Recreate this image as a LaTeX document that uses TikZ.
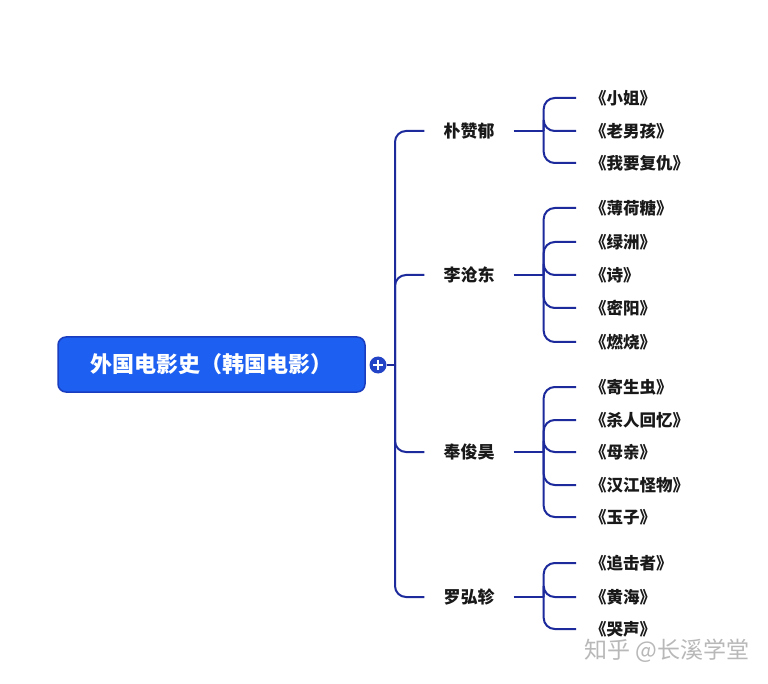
\documentclass[tikz,border=0pt]{standalone}
\usepackage{fontspec}
\setmainfont{Noto Sans CJK SC}
\definecolor{linec}{HTML}{1C2A9C}
\definecolor{rootfill}{HTML}{1D5FF0}
\definecolor{rootdraw}{HTML}{1A3CBF}
\definecolor{plusc}{HTML}{2343C6}
\definecolor{wmark}{HTML}{B8B8B8}
\begin{document}
\begin{tikzpicture}[x=1pt,y=-1pt,
  conn/.style={draw=linec, line width=2pt, rounded corners=11pt},
  rootbox/.style={draw=rootdraw, line width=1.5pt, fill=rootfill, rounded corners=8pt,
    minimum width=307pt, minimum height=55pt, text=white, font=\fontsize{22}{26}\selectfont\bfseries, inner sep=0pt},
  plusdot/.style={circle, fill=plusc, minimum size=17pt, inner sep=0pt},
  branch/.style={font=\fontsize{17}{20}\selectfont\bfseries, inner xsep=19pt, inner ysep=0pt, text=black!90},
  leaf/.style={font=\fontsize{16.5}{19}\selectfont\bfseries, anchor=west, inner xsep=14pt, inner ysep=0pt, text=black!90},
  wm/.style={font=\fontsize{23}{27}\selectfont, text=wmark}
]
\useasboundingbox (0,0) rectangle (768,684);
\fill[white] (0,0) rectangle (768,684);

% root
\node[rootbox] (root) at (211.5,364.5) {外国电影史（韩国电影）};
\node[plusdot] (plus) at (378,365) {};
\draw[white, line width=2pt] ([xshift=-5pt]plus.center) -- ([xshift=5pt]plus.center);
\draw[white, line width=2pt] ([yshift=-5pt]plus.center) -- ([yshift=5pt]plus.center);
\coordinate (j0) at (395,365);
\draw[conn] (plus.east) -- (j0);

% branches
\node[branch] (b1) at (469,131) {朴赞郁};
\node[branch] (b2) at (469,275) {李沧东};
\node[branch] (b3) at (469,452) {奉俊昊};
\node[branch] (b4) at (469,597) {罗弘轸};
\foreach \b in {b1,b2,b3,b4} \draw[conn] (j0) |- (\b.west);

% sub junctions
\path (b1.east) -- ++(30,0) coordinate (s1);
\path (b2.east) -- ++(30,0) coordinate (s2);
\path (b3.east) -- ++(30,0) coordinate (s3);
\path (b4.east) -- ++(30,0) coordinate (s4);
\foreach \b/\s in {b1/s1,b2/s2,b3/s3,b4/s4} \draw[conn] (\b.east) -- (\s);

% leaves group 1
\node[leaf] (l11) at (576,98)  {《小姐》};
\node[leaf] (l12) at (576,131) {《老男孩》};
\node[leaf] (l13) at (576,163) {《我要复仇》};
% group 2
\node[leaf] (l21) at (576,208) {《薄荷糖》};
\node[leaf] (l22) at (576,242) {《绿洲》};
\node[leaf] (l23) at (576,275) {《诗》};
\node[leaf] (l24) at (576,308) {《密阳》};
\node[leaf] (l25) at (576,342) {《燃烧》};
% group 3
\node[leaf] (l31) at (576,387) {《寄生虫》};
\node[leaf] (l32) at (576,420) {《杀人回忆》};
\node[leaf] (l33) at (576,452) {《母亲》};
\node[leaf] (l34) at (576,485) {《汉江怪物》};
\node[leaf] (l35) at (576,517) {《玉子》};
% group 4
\node[leaf] (l41) at (576,563) {《追击者》};
\node[leaf] (l42) at (576,597) {《黄海》};
\node[leaf] (l43) at (576,629) {《哭声》};

\foreach \l in {l11,l12,l13} \draw[conn] (s1) |- (\l.west);
\foreach \l in {l21,l22,l23,l24,l25} \draw[conn] (s2) |- (\l.west);
\foreach \l in {l31,l32,l33,l34,l35} \draw[conn] (s3) |- (\l.west);
\foreach \l in {l41,l42,l43} \draw[conn] (s4) |- (\l.west);

% watermark
\node[wm] (wmk) at (667,651) {知乎 @长溪学堂};
\end{tikzpicture}
\end{document}
